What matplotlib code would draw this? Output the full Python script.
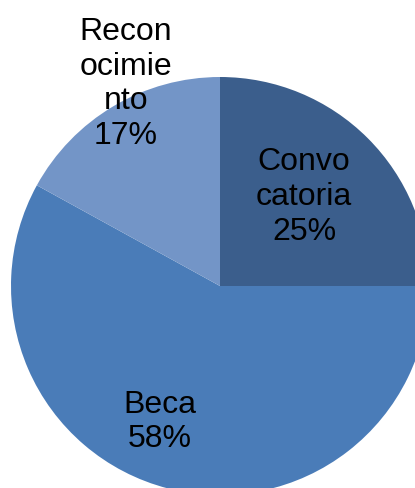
import matplotlib.pyplot as plt

labels = ["Convo\ncatoria", "Beca", "Recon\nocimie\nnto"]
shares = [25, 58, 17]
colors = ["#3B5E8C", "#4A7CB8", "#7395C7"]

plt.rcParams['font.family'] = ['Liberation Sans', 'DejaVu Sans']

fig = plt.figure(figsize=(4.15, 4.89), dpi=100)
ax = fig.add_axes([0, 0, 1, 1])

wedges, _ = ax.pie(shares, colors=colors, startangle=90, counterclock=False,
                   center=(220, 202), radius=209, frame=True,
                   wedgeprops=dict(linewidth=0))
ax.set_xlim(0, 415)
ax.set_ylim(0, 489)
ax.set_aspect('equal')
ax.axis('off')

# label spots (pixel-ish coords in figure space)
spots = [(304, 292), (160, 67), (126, 405)]
for (x, y), lab, val in zip(spots, labels, shares):
    ax.text(x, y, "%s\n%d%%" % (lab, val), ha='center', va='center',
            fontsize=23, linespacing=1.2, color='black')

fig.savefig("out.png", dpi=100)
